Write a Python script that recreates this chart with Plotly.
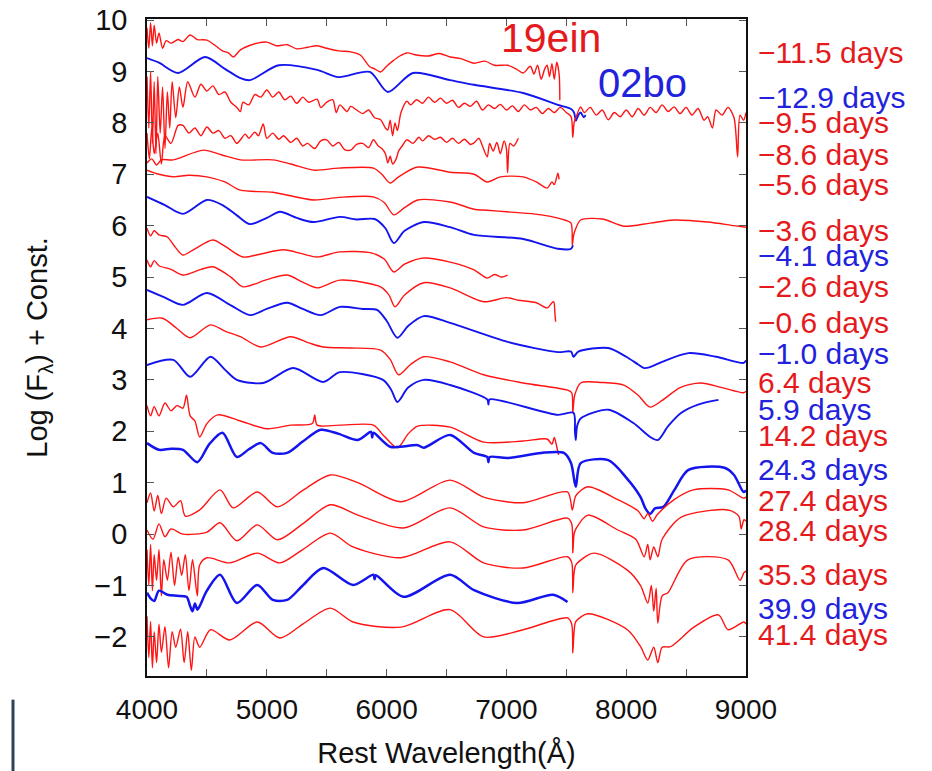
import plotly.graph_objects as go

# ---------------- data ----------------
RED = "#ff1414"
BLUE = "#1414ee"
RED_TXT = "#e41a1c"
BLUE_TXT = "#2222dd"

# SN 2019ein  -11.5 d
wl_m11p5 = [4000,4015,4030,4045,4060,4080,4100,4130,4160,4200,
            4260,4300,4360,4420,4500,4560,4630,4680,4720,4780,
            4850,4920,5000,5080,5170,5250,5340,5420,5500,5600,
            5700,5780,5860,5900,5950,6000,6050,6110,6170,6250,
            6350,6440,6530,6620,6730,6820,6900,7010,7080,7140,
            7200,7230,7260,7290,7320,7340,7360,7380,7400,7420,
            7440,7446]
fx_m11p5 = [9.85,9.45,9.95,9.5,9.9,9.55,9.75,9.45,9.6,9.55,
            9.62,9.58,9.71,9.62,9.61,9.52,9.4,9.36,9.28,9.42,
            9.5,9.55,9.57,9.5,9.52,9.44,9.47,9.5,9.45,9.4,
            9.38,9.32,9.09,9.05,8.99,9.1,9.2,9.3,9.36,9.32,
            9.3,9.35,9.28,9.25,9.16,9.2,9.12,9.12,9.05,8.97,
            9.1,8.95,9.12,8.85,9.05,9.12,8.9,9.15,8.85,9.18,
            8.95,8.44]

# SN 2002bo  -12.9 d
wl_m12p9 = [4000,4100,4260,4485,4650,4780,4860,5100,5420,5600,5860,6010,6220,6530,6730,7140,7430,7540,7565,7580,7600,7620,7645,7662]
fx_m12p9 = [9.26,9.17,8.97,9.28,9.05,8.87,8.83,9.12,9.03,8.89,8.99,8.60,8.97,8.83,8.74,8.58,8.35,8.27,8.2,8.04,8.15,8.20,8.11,8.15]

# SN 2019ein  -9.5 d
wl_m9p5 = [4000,4015,4030,4045,4060,4075,4090,4110,4130,4150,4170,4190,4210,4240,4270,4300,4340,4400,
           4450,4500,4550,4600,4650,4700,4750,4780,4800,4850,
           4900,4950,5000,5050,5100,5150,5200,5250,5300,5350,
           5420,5450,5500,5550,5580,5610,5670,5700,5750,5800,
           5850,5900,5950,5990,6010,6030,6050,6070,6090,6120,
           6170,6200,6250,6300,6350,6400,6450,6500,6550,6600,
           6650,6700,6750,6800,6850,6900,6950,7000,7050,7100,
           7150,7200,7250,7300,7350,7400,7450,7500,7540,7554,
           7565,7580,7620,7650,7700,7750,7800,7850,7900,7950,
           8000,8050,8100,8150,8200,8250,8300,8350,8400,8450,
           8500,8550,8600,8650,8680,8720,8750,8800,8850,8900,
           8930,8950,8980,9000]
fx_m9p5 = [8.9,7.9,9.0,7.6,8.8,7.4,8.9,7.8,8.7,7.5,8.6,7.9,8.8,8.1,8.7,8.3,8.8,8.5,
           8.75,8.62,8.72,8.55,8.6,8.4,8.3,8.22,8.4,8.35,
           8.55,8.5,8.64,8.5,8.6,8.45,8.52,8.38,8.5,8.4,
           8.46,8.3,8.4,8.45,8.2,8.35,8.22,8.32,8.25,8.18,
           8.25,8.1,8.06,7.9,7.86,8.05,7.75,8.0,7.85,8.2,
           8.42,8.35,8.45,8.38,8.5,8.4,8.48,8.38,8.44,8.3,
           8.38,8.32,8.42,8.25,8.35,8.28,8.36,8.25,8.33,8.22,
           8.35,8.25,8.3,8.18,8.28,8.2,8.3,8.2,8.12,7.72,
           8.0,8.1,8.31,8.2,8.3,8.15,8.25,8.06,8.2,8.12,
           8.25,8.12,8.28,8.15,8.3,8.2,8.35,8.22,8.31,8.18,
           8.3,8.15,8.28,8.05,8.12,7.9,8.25,8.15,8.3,8.1,
           7.34,8.15,8.05,8.2]

# SN 2019ein  -8.6 d
wl_m8p6 = [4000,4020,4040,4060,4090,4120,4150,4200,4260,
           4300,4350,4400,4450,4500,4550,4600,4650,4700,4750,
           4780,4820,4850,4900,4930,4970,5000,5050,5100,5140,
           5200,5250,5300,5340,5400,5450,5500,5550,5600,5650,
           5700,5750,5800,5850,5890,5930,5960,5990,6010,6030,
           6050,6080,6100,6130,6170,6220,6270,6300,6350,6400,
           6450,6500,6550,6600,6650,6700,6730,6770,6800,6840,
           6860,6890,6920,6950,6980,7000,7010,7030,7060,7100]
fx_m8p6 = [7.8,7.3,7.9,7.4,7.8,7.2,7.75,7.6,7.95,
           7.95,7.8,7.9,7.75,7.92,7.8,7.85,7.7,7.75,7.6,
           7.67,7.78,7.7,7.82,7.75,7.98,7.7,7.8,7.68,7.75,
           7.62,7.7,7.55,7.6,7.5,7.65,7.67,7.55,7.62,7.48,
           7.47,7.58,7.6,7.52,7.67,7.55,7.5,7.4,7.22,7.35,
           7.2,7.3,7.45,7.55,7.67,7.6,7.72,7.65,7.75,7.68,
           7.72,7.62,7.7,7.6,7.68,7.58,7.61,7.7,7.55,7.34,
           7.6,7.45,7.62,7.4,7.65,7.5,7.03,7.6,7.55,7.7]

# SN 2019ein  -5.6 d
wl_m5p6 = [4000,4040,4080,4120,4220,4470,4620,4780,5050,5200,5390,5600,5890,5960,6030,6100,6260,6530,6730,6840,
           6950,7140,7250,7340,7380,7400,7430,7440]
fx_m5p6 = [7.22,7.3,7.18,7.28,7.28,7.47,7.38,7.28,7.28,7.2,7.08,7.12,7.12,7.0,6.83,6.95,7.14,7.04,7.0,6.85,
           6.95,6.95,6.85,6.73,6.85,6.8,7.02,6.9]

# SN 2019ein  -3.6 d
wl_m3p6 = [4000,4100,4220,4350,4500,4650,4780,5050,5390,5600,5890,5980,6060,6150,6260,6530,6730,6840,7000,7290,
           7500,7540,7550,7560,7580,7620,7800,7980,8200,8400,8680,8900,9000]
fx_m3p6 = [7.08,7.0,6.95,6.98,6.95,6.85,6.69,6.65,6.50,6.55,6.56,6.45,6.21,6.35,6.50,6.46,6.32,6.30,6.27,6.21,
           6.1,6.05,5.62,5.8,5.95,6.11,6.13,5.99,6.05,6.11,6.07,6.0,5.97]

# SN 2002bo  -4.1 d
wl_m4p1 = [4000,4150,4300,4500,4630,4750,4860,5000,5110,5250,5390,5610,5750,5900,5990,6060,6150,6310,6530,6730,7140,7430,7540,7555]
fx_m4p1 = [6.56,6.4,6.23,6.50,6.40,6.2,6.03,6.15,6.27,6.15,6.07,6.17,6.12,6.13,5.95,5.66,5.9,6.07,5.97,5.82,5.74,5.55,5.55,5.62]

# SN 2019ein  -2.6 d
wl_m2p6 = [4000,4030,4060,4100,4170,4230,4300,4400,4550,4650,4800,4950,5140,5300,5420,5610,5870,5980,6060,6150,
           6310,6530,6730,6840,6900,6960,7010]
fx_m2p6 = [5.95,5.8,5.9,5.82,5.78,5.6,5.43,5.55,5.72,5.6,5.39,5.45,5.53,5.45,5.39,5.49,5.47,5.35,5.10,5.25,
           5.37,5.29,5.14,4.98,5.05,5.0,5.04]

# SN 2019ein  -0.6 d
wl_m0p6 = [4000,4030,4060,4100,4200,4300,4450,4550,4700,4800,5000,5170,5300,5420,5610,5950,6020,6070,6150,6310,
           6530,6810,7000,7100,7250,7340,7380,7395,7405,7411]
fx_m0p6 = [5.33,5.2,5.32,5.22,5.15,5.04,5.15,5.20,5.0,4.81,4.95,5.04,4.9,4.79,4.94,4.81,4.65,4.42,4.65,4.89,
           4.79,4.52,4.6,4.55,4.5,4.40,4.5,4.52,4.3,4.13]

# SN 2002bo  -1.0 d
wl_m1p0 = [4000,4150,4300,4500,4700,4860,5000,5170,5300,5450,5610,5800,5920,6000,6090,6180,6310,6530,7010,7430,
           7540,7560,7600,7850,8000,8100,8150,8200,8300,8520,8750,8980,9000]
fx_m1p0 = [4.75,4.6,4.46,4.69,4.45,4.26,4.38,4.50,4.38,4.26,4.42,4.38,4.36,4.15,3.82,4.05,4.24,4.11,3.74,3.54,
           3.55,3.45,3.55,3.62,3.45,3.3,3.23,3.25,3.35,3.52,3.45,3.33,3.38]

# SN 2019ein  +6.4 d
wl_p6p4 = [4000,4130,4250,4360,4530,4650,4780,4950,5200,5350,5470,5700,5950,6030,6100,6200,6310,6530,6810,7140,
           7510,7545,7554,7570,7620,7800,7980,8100,8200,8300,8450,8620,8800,8980,9000]
fx_p6p4 = [4.17,4.20,4.0,3.82,4.07,3.95,3.84,3.64,3.84,3.72,3.64,3.62,3.58,3.4,3.10,3.3,3.45,3.35,3.10,2.94,
           2.80,2.75,2.36,2.7,2.94,2.95,2.90,2.7,2.47,2.6,2.85,2.94,2.85,2.75,2.78]

# SN 2002bo  +5.9 d
wl_p5p9 = [4000,4220,4360,4530,4650,4750,4970,5220,5470,5610,5970,6040,6090,6180,6310,6530,6840,6850,6860,7430,
           7560,7572,7579,7590,7620,7850,8060,8200,8264,8350,8460,8600,8770]
fx_p5p9 = [3.29,3.39,3.06,3.45,3.2,3.00,2.94,3.23,2.96,3.15,3.00,2.8,2.57,2.85,3.00,2.90,2.62,2.52,2.62,2.32,
           2.36,2.0,1.83,2.1,2.25,2.42,2.16,1.89,1.83,2.1,2.36,2.52,2.61]

# SN 2019ein  +14.2 d
wl_p14p2 = [4000,4030,4060,4100,4150,4200,4250,4300,4330,4360,4400,4440,4500,4590,4780,5000,5200,5380,5400,5420,
            5610,5890,5970,6090,6180,6260,6530,6810,7140,7340,7380,7400,7420,7436]
fx_p14p2 = [2.5,2.3,2.48,2.3,2.55,2.4,2.5,2.45,2.7,2.3,2.2,1.89,2.15,2.32,2.20,2.05,2.12,2.15,2.32,2.12,
            2.12,2.12,1.93,1.68,1.95,2.10,2.08,1.79,1.81,1.85,1.75,1.88,1.7,1.54]

# SN 2002bo  +24.3 d
wl_p24p3 = [4000,4100,4200,4300,4420,4520,4630,4750,4850,4950,5050,5170,5300,5450,5600,5760,5870,5880,5890,6030,
            6260,6310,6530,6730,6840,6850,6860,7010,7290,7480,7540,7579,7620,7850,8000,8120,8160,8200,8240,8310,
            8400,8520,8820,8900,8980,9000]
fx_p24p3 = [1.77,1.64,1.66,1.64,1.40,1.75,1.97,1.50,1.65,1.77,1.58,1.58,1.8,2.03,1.95,1.83,1.99,1.88,1.97,1.70,
            1.73,1.68,1.93,1.58,1.50,1.40,1.50,1.48,1.58,1.58,1.38,0.92,1.38,1.44,1.1,0.72,0.5,0.39,0.5,0.53,
            0.85,1.25,1.29,1.15,0.82,0.85]

# SN 2019ein  +27.4 d
wl_p27p4 = [4000,4030,4060,4090,4120,4160,4220,4280,4320,4440,4610,4720,4920,5090,5300,5530,5760,6120,6530,6810,
            7140,7510,7550,7580,7680,7930,8100,8150,8180,8220,8260,8400,8560,8850,8980,9000]
fx_p27p4 = [0.61,0.8,0.45,0.75,0.4,0.7,0.53,0.65,0.35,0.47,0.86,0.51,0.82,0.53,0.85,1.15,1.00,0.63,1.05,0.72,
            0.61,0.82,0.47,0.75,0.92,0.67,0.45,0.3,0.4,0.25,0.38,0.67,0.86,0.86,0.70,0.72]

# SN 2019ein  +28.4 d
wl_p28p4 = [4000,4050,4100,4150,4200,4300,4500,4610,4750,4920,5090,5300,5530,5760,6140,6530,6810,7140,7510,7545,
            7554,7565,7580,7680,7930,8080,8150,8180,8200,8230,8264,8300,8460,8850,8940,8960,8983,9000]
fx_p28p4 = [0.08,-0.1,0.2,-0.05,0.1,0.0,0.04,0.22,-0.13,0.18,-0.11,0.2,0.57,0.37,0.12,0.51,0.14,0.08,0.31,0.2,
            -0.37,0.0,0.1,0.37,0.08,-0.1,-0.44,-0.2,-0.5,-0.25,-0.44,-0.1,0.33,0.47,0.35,0.1,0.28,0.25]

# SN 2019ein  +35.3 d
wl_p35p3 = [4000,4015,4030,4045,4060,4080,4100,4120,4140,4170,4200,4230,4260,4290,4320,4350,4380,4420,4440,4500,
            4690,4920,5110,5300,5530,5720,6120,6530,6810,7140,7510,7545,7554,7565,7580,7730,8010,8120,8180,8210,
            8230,8250,8264,8300,8348,8515,8850,8950,8983,9000]
fx_p35p3 = [-0.3,-1.0,-0.2,-1.1,-0.4,-0.9,-0.3,-1.2,-0.5,-0.9,-0.35,-1.0,-0.45,-0.8,-0.4,-1.1,-0.5,-1.2,-0.6,-0.46,
            -0.56,-0.37,-0.56,-0.3,0.02,-0.25,-0.46,-0.15,-0.56,-0.66,-0.44,-0.55,-1.14,-0.75,-0.6,-0.37,-0.70,-1.0,-1.34,-1.0,
            -1.5,-1.05,-1.73,-1.2,-1.14,-0.50,-0.50,-0.9,-0.75,-0.72]

# SN 2002bo  +39.9 d
wl_p39p9 = [4000,4030,4060,4100,4170,4250,4330,4360,4380,4400,4420,4440,4500,4610,4750,4920,5050,5170,5300,5470,
            5720,5890,5900,5910,6140,6530,6730,7090,7390,7510]
fx_p39p9 = [-1.14,-1.25,-1.3,-1.1,-1.18,-1.2,-1.22,-1.4,-1.5,-1.35,-1.47,-1.4,-1.1,-0.79,-1.34,-0.99,-1.28,-1.28,-1.0,-0.66,
            -0.99,-0.79,-0.88,-0.8,-1.22,-0.79,-1.09,-1.34,-1.18,-1.32]

# SN 2019ein  +41.4 d
wl_p41p4 = [4000,4015,4030,4045,4060,4080,4100,4120,4150,4180,4210,4240,4280,4310,4340,4370,4400,4440,4530,4690,
            4920,5110,5300,5530,5720,6120,6530,6810,7140,7510,7545,7554,7565,7580,7680,8010,8120,8180,8230,8264,
            8300,8370,8565,8770,8850,8983,9000]
fx_p41p4 = [-1.6,-2.4,-1.7,-2.6,-1.9,-2.5,-1.75,-2.3,-1.8,-2.6,-1.9,-2.2,-1.85,-2.5,-1.9,-2.65,-2.0,-2.2,-1.86,-2.06,
            -1.71,-2.02,-1.75,-1.44,-1.71,-1.81,-1.47,-2.00,-1.86,-1.63,-1.75,-2.31,-1.9,-1.7,-1.55,-1.86,-2.19,-2.45,-2.2,-2.5,
            -2.2,-2.19,-1.81,-1.57,-1.86,-1.71,-1.75]

spectra = [
    (wl_m11p5, fx_m11p5, "19ein"), (wl_m12p9, fx_m12p9, "02bo"), (wl_m9p5, fx_m9p5, "19ein"),
    (wl_m8p6, fx_m8p6, "19ein"), (wl_m5p6, fx_m5p6, "19ein"), (wl_m3p6, fx_m3p6, "19ein"),
    (wl_m4p1, fx_m4p1, "02bo"), (wl_m2p6, fx_m2p6, "19ein"), (wl_m0p6, fx_m0p6, "19ein"),
    (wl_m1p0, fx_m1p0, "02bo"), (wl_p6p4, fx_p6p4, "19ein"), (wl_p5p9, fx_p5p9, "02bo"),
    (wl_p14p2, fx_p14p2, "19ein"), (wl_p24p3, fx_p24p3, "02bo"), (wl_p27p4, fx_p27p4, "19ein"),
    (wl_p28p4, fx_p28p4, "19ein"), (wl_p35p3, fx_p35p3, "19ein"), (wl_p39p9, fx_p39p9, "02bo"),
    (wl_p41p4, fx_p41p4, "19ein"),
]

epoch_labels = ["−11.5 days", "−12.9 days", "−9.5 days", "−8.6 days", "−5.6 days", "−3.6 days",
                "−4.1 days", "−2.6 days", "−0.6 days", "−1.0 days", "6.4 days", "5.9 days",
                "14.2 days", "24.3 days", "27.4 days", "28.4 days", "35.3 days", "39.9 days", "41.4 days"]
epoch_sn = ["19ein", "02bo", "19ein", "19ein", "19ein", "19ein", "02bo", "19ein", "19ein", "02bo",
            "19ein", "02bo", "19ein", "02bo", "19ein", "19ein", "19ein", "02bo", "19ein"]
epoch_label_y = [9.36, 8.50, 8.0, 7.39, 6.81, 5.91, 5.41, 4.81, 4.12, 3.52, 2.94, 2.43,
                 1.91, 1.25, 0.66, 0.08, -0.78, -1.44, -1.96]

x_ticks = [4000, 4500, 5000, 5500, 6000, 6500, 7000, 7500, 8000, 8500, 9000]
x_ticktext = ["4000", "", "5000", "", "6000", "", "7000", "", "8000", "", "9000"]
y_ticks = list(range(-2, 11))

line_color = {"19ein": RED, "02bo": BLUE}
text_color = {"19ein": RED_TXT, "02bo": BLUE_TXT}
thick_blue = {"24.3 days", "39.9 days"}

# ---------------- figure ----------------
fig = go.Figure()
for (wl, fx, sn), lab in zip(spectra, epoch_labels):
    width = 1.4 if sn == "19ein" else (2.5 if lab in thick_blue else 1.9)
    fig.add_trace(go.Scatter(x=wl, y=fx, mode="lines", showlegend=False, hoverinfo="skip",
                             line=dict(color=line_color[sn], width=width,
                                       shape="spline", smoothing=0.8)))

FONT = "Liberation Sans, Arial, Helvetica, sans-serif"

annotations = []
for lab, sn, yy in zip(epoch_labels, epoch_sn, epoch_label_y):
    annotations.append(dict(xref="paper", yref="y", x=1.017, y=yy, text=lab, showarrow=False,
                            xanchor="left", yanchor="middle",
                            font=dict(family=FONT, size=30, color=text_color[sn])))
annotations.append(dict(xref="x", yref="y", x=7370, y=9.65, text="19ein", showarrow=False,
                        xanchor="center", yanchor="middle", font=dict(family=FONT, size=41, color=RED_TXT)))
annotations.append(dict(xref="x", yref="y", x=8139, y=8.77, text="02bo", showarrow=False,
                        xanchor="center", yanchor="middle", font=dict(family=FONT, size=40, color=BLUE_TXT)))

fig.update_layout(
    width=932, height=771,
    margin=dict(l=147, r=186, t=19, b=95, autoexpand=False),
    paper_bgcolor="white", plot_bgcolor="white",
    font=dict(family=FONT, color="#111111"),
    annotations=annotations,
    shapes=[dict(type="line", xref="paper", yref="paper", x0=-0.2237, x1=-0.2237, y0=-0.036, y1=-0.16,
                 line=dict(color="#2e4257", width=3))],
)
fig.update_xaxes(
    range=[4000, 9000], tickvals=x_ticks, ticktext=x_ticktext,
    ticks="inside", ticklen=7, tickwidth=1.2, tickcolor="#555555",
    showline=True, linecolor="#111111", linewidth=1.6, mirror="ticks",
    showgrid=False, zeroline=False,
    tickfont=dict(family=FONT, size=28, color="#111111"), ticklabelstandoff=8,
    title=dict(text="Rest Wavelength(Å)", font=dict(family=FONT, size=29, color="#111111"), standoff=18),
)
fig.update_yaxes(
    range=[-2.76, 10.02], tickvals=y_ticks,
    ticks="inside", ticklen=7, tickwidth=1.2, tickcolor="#555555",
    showline=True, linecolor="#111111", linewidth=1.6, mirror="ticks",
    showgrid=False, zeroline=False,
    tickfont=dict(family=FONT, size=29, color="#111111"), ticklabelstandoff=12,
    title=dict(text="Log (F<sub>λ</sub>) + Const.", font=dict(family=FONT, size=29, color="#111111"), standoff=38),
)

fig.write_html("out.html")
